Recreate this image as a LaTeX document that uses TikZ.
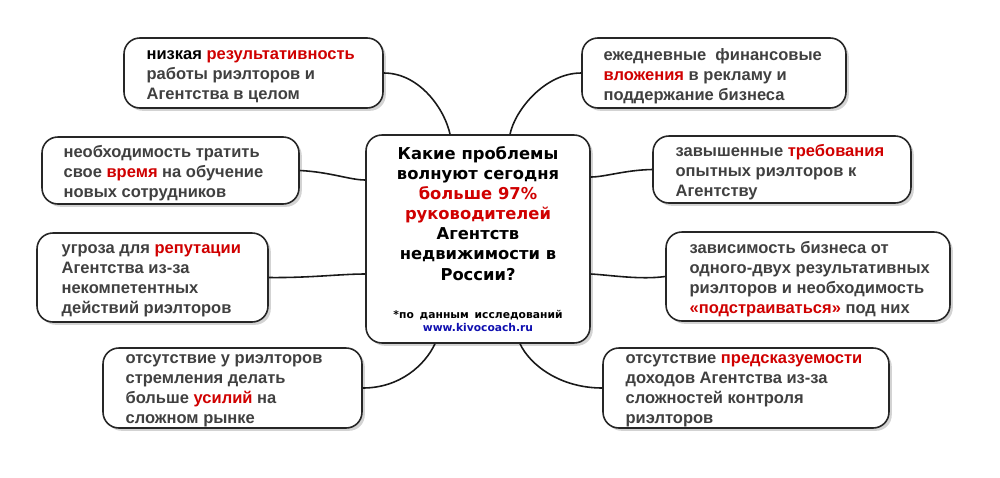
\documentclass[tikz,border=0pt]{standalone}
\usepackage{fontspec}
\setmainfont{Liberation Sans}
\newfontfamily\vfont{DejaVu Sans}
\usetikzlibrary{shadows,calc}
\definecolor{tgray}{HTML}{404040}
\definecolor{kred}{HTML}{D00000}
\definecolor{lnk}{HTML}{1010B0}
\newcommand{\rd}[1]{\textcolor{kred}{#1}}
\tikzset{
 box/.style={draw=black!85, line width=0.9pt, rounded corners=9pt, fill=white,
   drop shadow={shadow xshift=1.6pt, shadow yshift=-1.6pt, opacity=0.35}, inner sep=0pt},
 txt/.style={anchor=west, inner sep=0pt, align=left, font=\fontsize{9.4}{11.4}\selectfont\bfseries\color{tgray}},
 conn/.style={line width=0.9pt, black!90}
}
\begin{document}
\begin{tikzpicture}[x=0.02cm,y=-0.02cm]
\useasboundingbox (0,0) rectangle (1000,477);
\node[box, minimum width=5.18cm, minimum height=1.4cm] (tl) at (253.5,73) {};
\node[txt] (tlt) at ($(tl.west)+(23,4)$) {\textcolor{black}{низкая} \rd{результативность}\\работы риэлторов и\\Агентства в целом};
\node[box, minimum width=5.14cm, minimum height=1.34cm] (l2) at (170.5,170.5) {};
\node[txt] (l2t) at ($(l2.west)+(22,3)$) {необходимость тратить\\свое \rd{время} на обучение\\новых сотрудников};
\node[box, minimum width=4.62cm, minimum height=1.78cm] (l3) at (152.5,277.5) {};
\node[txt] (l3t) at ($(l3.west)+(25,3)$) {угроза для \rd{репутации}\\Агентства из-за\\некомпетентных\\действий риэлторов};
\node[box, minimum width=5.18cm, minimum height=1.6cm] (l4) at (232.5,388) {};
\node[txt] (l4t) at ($(l4.west)+(23,3)$) {отсутствие у риэлторов\\стремления делать\\больше \rd{усилий} на\\сложном рынке};
\node[box, minimum width=5.28cm, minimum height=1.4cm] (tr) at (714,73) {};
\node[txt] (trt) at ($(tr.west)+(22,3)$) {ежедневные\ \ финансовые\\\rd{вложения} в рекламу и\\поддержание бизнеса};
\node[box, minimum width=5.16cm, minimum height=1.34cm] (r2) at (782,169.5) {};
\node[txt] (r2t) at ($(r2.west)+(23,3)$) {завышенные \rd{требования}\\опытных риэлторов к\\Агентству};
\node[box, minimum width=5.68cm, minimum height=1.78cm] (r3) at (808,276.5) {};
\node[txt] (r3t) at ($(r3.west)+(24,3)$) {зависимость бизнеса от\\одного-двух результативных\\риэлторов и необходимость\\\rd{«подстраиваться»} под них};
\node[box, minimum width=5.72cm, minimum height=1.6cm] (r4) at (746,388) {};
\node[txt] (r4t) at ($(r4.west)+(23,3)$) {отсутствие \rd{предсказуемости}\\доходов Агентства из-за\\сложностей контроля\\риэлторов};
\node[box, minimum width=4.48cm, minimum height=4.16cm, text width=4.2cm, align=center, font=\vfont\bfseries\color{black}] (c) at (478,239)
 {{\fontsize{9.3}{11.3}\selectfont Какие проблемы\\волнуют сегодня\\\rd{больше 97\%}\\\rd{руководителей}\\Агентств\\недвижимости в\\России?}\\[10pt]
  {\fontsize{6.1}{6.3}\selectfont *по данным исследований}\\[-5pt]{\fontsize{6.1}{6.3}\selectfont\textcolor{lnk}{www.kivocoach.ru}}};
\draw[conn] (tl.east) .. controls (420,73) and (445,110) .. (c.north -| 450,0);
\draw[conn] (tr.west) .. controls (545,73) and (515,110) .. (c.north -| 510,0);
\draw[conn] (l2.east) .. controls (330,172) and (350,180) .. (c.west |- 0,180);
\draw[conn] (l3.east) .. controls (310,278) and (340,274) .. (c.west |- 0,274);
\draw[conn] (r2.west) .. controls (625,170) and (605,177) .. (c.east |- 0,177);
\draw[conn] (r3.west) .. controls (640,280) and (610,275) .. (c.east |- 0,274);
\draw[conn] (l4.east) .. controls (400,388) and (425,365) .. (c.south -| 435,0);
\draw[conn] (r4.west) .. controls (560,388) and (530,365) .. (c.south -| 520,0);
\end{tikzpicture}
\end{document}
